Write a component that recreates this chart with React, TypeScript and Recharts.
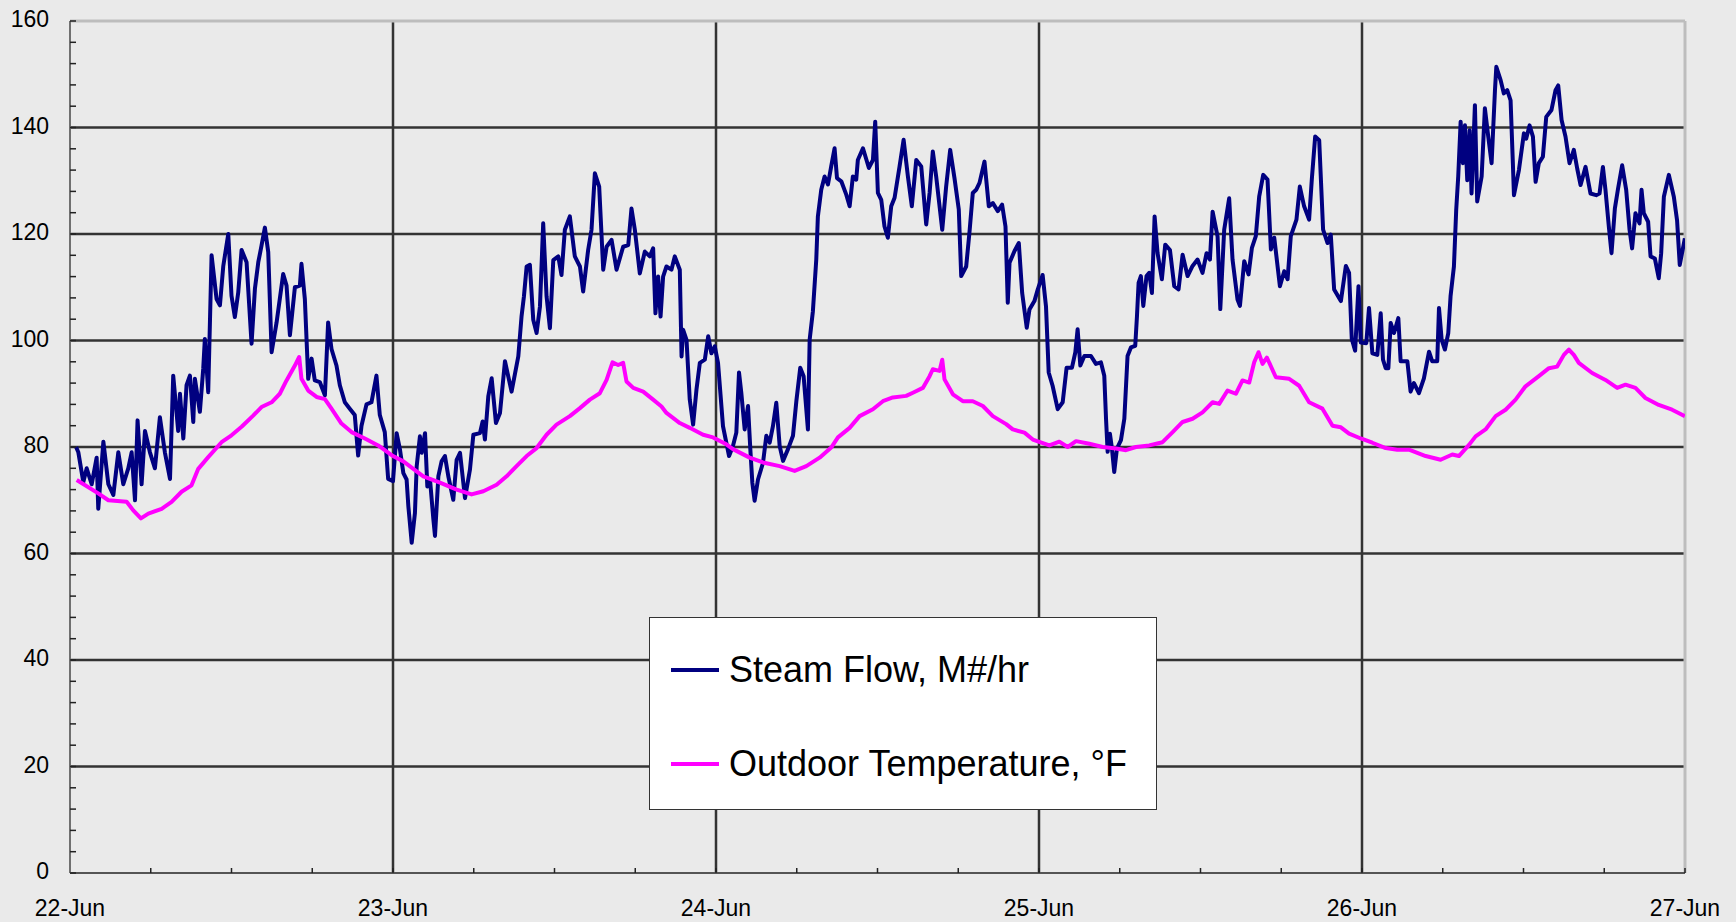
import { LineChart, Line, XAxis, YAxis, CartesianGrid, ReferenceLine, Legend } from 'recharts';

// hours since 22-Jun 00:00
const steamHours = [
  0.45, 0.62, 0.99, 1.24, 1.61, 1.98, 2.1, 2.48, 2.85, 3.22, 3.59, 3.96, 4.33, 4.58, 4.83, 5.02, 5.32, 5.57, 5.94, 6.31,
  6.68, 7.05, 7.43, 7.67, 8.04, 8.17, 8.42, 8.66, 8.91, 9.16, 9.28, 9.65, 9.9, 10.02, 10.27, 10.52, 10.89, 11.14, 11.39, 11.76,
  12.0, 12.25, 12.5, 12.75, 13.12, 13.49, 13.74, 13.99, 14.23, 14.48, 14.73, 14.98, 15.35, 15.84, 16.09, 16.34, 16.71, 17.08, 17.2, 17.45,
  17.7, 17.95, 18.19, 18.56, 18.94, 19.18, 19.43, 19.8, 20.05, 20.42, 20.79, 21.16, 21.41, 21.66, 22.03, 22.4, 22.77, 23.02, 23.39, 23.64,
  24.0, 24.27, 24.52, 24.77, 25.01, 25.14, 25.39, 25.63, 25.76, 26.0, 26.13, 26.38, 26.55, 26.75, 27.0, 27.12, 27.37, 27.61, 27.86, 28.11,
  28.48, 28.73, 28.98, 29.35, 29.72, 29.97, 30.46, 30.66, 30.83, 31.08, 31.33, 31.65, 31.95, 32.32, 32.81, 33.31, 33.55, 33.73, 33.93, 34.17,
  34.42, 34.67, 34.92, 35.16, 35.41, 35.66, 35.91, 36.28, 36.52, 36.77, 37.14, 37.51, 37.89, 38.13, 38.5, 38.75, 39.0, 39.32, 39.62, 39.87,
  40.24, 40.61, 41.1, 41.48, 41.72, 41.97, 42.34, 42.71, 43.08, 43.33, 43.5, 43.7, 43.88, 44.07, 44.32, 44.69, 44.94, 45.31, 45.44, 45.56,
  45.81, 46.05, 46.3, 46.55, 46.8, 47.17, 47.42, 47.66, 47.91, 48.15, 48.52, 48.97, 49.26, 49.51, 49.71, 49.88, 50.13, 50.38, 50.55, 50.7,
  50.87, 51.12, 51.49, 51.74, 51.99, 52.23, 52.48, 52.73, 52.98, 53.35, 53.72, 53.97, 54.26, 54.51, 54.83, 54.96, 55.2, 55.45, 55.57, 55.82,
  56.07, 56.32, 56.56, 56.81, 56.99, 57.31, 57.68, 57.93, 58.17, 58.42, 58.54, 58.92, 59.36, 59.66, 59.83, 60.03, 60.28, 60.52, 60.77, 61.02,
  61.27, 61.64, 61.94, 62.26, 62.55, 62.88, 63.25, 63.62, 63.87, 64.11, 64.36, 64.81, 65.1, 65.4, 65.72, 66.04, 66.22, 66.59, 66.84, 67.08,
  67.33, 67.58, 67.95, 68.27, 68.57, 68.94, 69.26, 69.51, 69.68, 69.81, 70.18, 70.5, 70.75, 71.09, 71.29, 71.66, 71.91, 72.27, 72.52, 72.72,
  73.01, 73.39, 73.76, 74.05, 74.45, 74.7, 74.87, 75.07, 75.37, 75.86, 76.23, 76.6, 76.85, 76.98, 77.1, 77.27, 77.42, 77.59, 77.79, 78.09,
  78.34, 78.58, 78.83, 79.15, 79.28, 79.4, 79.57, 79.75, 79.99, 80.19, 80.39, 80.59, 80.81, 81.13, 81.38, 81.73, 82.05, 82.37, 82.67, 83.04,
  83.41, 83.78, 84.15, 84.45, 84.7, 84.9, 85.27, 85.47, 85.76, 86.13, 86.38, 86.75, 86.93, 87.25, 87.57, 87.82, 88.11, 88.36, 88.66, 88.98,
  89.23, 89.48, 89.9, 90.22, 90.47, 90.71, 91.13, 91.38, 91.7, 92.07, 92.27, 92.52, 92.82, 93.11, 93.44, 93.68, 93.93, 94.43, 94.8, 95.04,
  95.24, 95.49, 95.74, 95.91, 96.32, 96.52, 96.77, 97.14, 97.39, 97.56, 97.76, 97.96, 98.13, 98.38, 98.7, 98.87, 99.37, 99.61, 99.86, 100.23,
  100.6, 100.98, 101.22, 101.59, 101.72, 101.92, 102.16, 102.41, 102.58, 102.83, 103.0, 103.15, 103.33, 103.5, 103.65, 103.82, 104.0, 104.14, 104.39, 104.56,
  104.89, 105.13, 105.38, 105.63, 105.88, 105.98, 106.3, 106.54, 106.79, 107.04, 107.21, 107.29, 107.66, 108.03, 108.2, 108.45, 108.7, 108.9, 109.14, 109.44,
  109.69, 110.08, 110.38, 110.58, 110.83, 111.12, 111.42, 111.74, 111.99, 112.24, 112.61, 112.98, 113.4, 113.65, 113.9, 114.09, 114.34, 114.54, 114.79, 115.03,
  115.33, 115.63, 115.88, 116.07, 116.32, 116.62, 116.77, 116.94, 117.26, 117.44, 117.76, 118.05, 118.23, 118.43, 118.8, 119.17, 119.41, 119.61, 119.99,
];

const steamFlow = [
  80, 79, 73.4, 76, 73, 78, 68.4, 81, 73, 71, 79, 73, 76, 79, 70, 85, 73, 83, 79, 76,
  85.6, 79, 74, 93.4, 83, 90, 81.6, 91.6, 93.4, 84.7, 92.8, 86.6, 94.7, 100.3, 90.3, 116, 107.8, 106.6, 114, 120,
  108.4, 104.4, 109, 117, 114.7, 99.4, 109.7, 114.7, 117.8, 121.2, 116.6, 97.8, 103.4, 112.5, 110.3, 101, 110, 110.3, 114.4, 107.8,
  92.8, 96.6, 92.5, 92.2, 89.7, 103.4, 98.4, 95.3, 91.6, 88.4, 87.2, 86, 78.4, 84, 88, 88.4, 93.4, 86, 82.8, 74,
  73.6, 82.6, 79.5, 75.1, 73.9, 68.9, 62, 67.6, 76.4, 82, 78.9, 82.6, 72.6, 73.9, 66.4, 63.3, 74.5, 77.3, 78.3, 74.5,
  70.1, 77.6, 78.9, 70.4, 75.8, 82.3, 82.6, 84.8, 81.4, 89.5, 92.9, 84.5, 86.4, 96.1, 90.4, 97, 104.5, 108.3, 113.9, 114.2,
  103.9, 101.4, 106.4, 122, 108.3, 102.3, 115.1, 115.8, 112.3, 120.8, 123.3, 115.8, 113.9, 109.2, 117, 120.8, 131.4, 128.9, 113.3, 117.6,
  118.9, 113.3, 117.6, 117.9, 124.8, 120.8, 112.6, 116.7, 115.8, 117.3, 105.1, 112, 104.5, 112, 113.9, 113.3, 115.8, 113.3, 97, 102,
  100.1, 88.9, 84.2, 90.8, 95.8, 96.4, 100.8, 97.6, 98.9, 95.8, 83.9, 78.3, 80.2, 82.7, 94, 90.2, 83.3, 87.7, 79.6, 73.3,
  69.9, 73.9, 77, 82.1, 80.8, 83.9, 88.3, 80.2, 77.4, 79.6, 82.1, 88.6, 94.9, 93.3, 83.3, 100.2, 105.5, 115.2, 123.3, 128.3,
  130.8, 129.3, 132.7, 136.1, 130.5, 129.9, 127.4, 125.2, 130.8, 130.2, 133.9, 136.1, 132.4, 133.9, 141.1, 127.7, 126.4, 121.4, 119.3, 125.2,
  126.8, 132.7, 137.7, 130.8, 125.2, 133.9, 132.7, 121.8, 127.7, 135.5, 130.8, 120.8, 128.9, 135.8, 130.5, 124.6, 112.1, 113.9, 120.5, 127.7,
  128.3, 129.6, 133.6, 125.2, 125.8, 124.3, 125.5, 121.4, 107.1, 114.6, 116.8, 118.3, 108.9, 102.4, 105.8, 107.4, 109.6, 112.3, 106.4, 94,
  91.5, 87.1, 88.4, 94.9, 94.9, 97.8, 102.1, 95.3, 97.1, 97.1, 95.6, 95.9, 93.4, 85.3, 79.1, 82.5, 79.7, 75.3, 79.7, 81.3,
  85.3, 97.1, 98.7, 99, 104.6, 110.8, 112.1, 106.5, 112.1, 112.7, 108.9, 123.3, 116.4, 111.5, 118, 117, 110.2, 109.6, 116.1, 112.1,
  114, 115.2, 112.7, 116.4, 115.2, 124.2, 119.5, 105.9, 120.8, 126.7, 115.2, 107.7, 106.5, 114.9, 112.4, 117.4, 119.6, 127, 131.1, 130.2,
  117.1, 119.3, 110.2, 113, 111.5, 119.6, 122.7, 128.9, 125.2, 122.7, 130.2, 138.3, 137.6, 120.8, 118.3, 119.9, 109.6, 107.4, 114, 112.7,
  100.3, 98.1, 110.2, 99.6, 99.5, 106.1, 97.6, 97.3, 105.1, 96.4, 94.8, 94.8, 103.3, 101.4, 104.2, 96.1, 96.1, 90.4, 92, 90.1,
  92.9, 97.9, 96.1, 96.1, 106.1, 100.1, 98.3, 101.4, 108.3, 113.9, 124.5, 130.8, 141.1, 133.3, 140.4, 130.1, 139.5, 127.6, 144.2, 126.1,
  130.8, 143.6, 138.3, 133.3, 147, 151.4, 148.9, 146.4, 147, 145.1, 133.3, 127.3, 132, 138.9, 137.9, 140.4, 138.3, 129.8, 133.3, 134.5,
  142, 143.3, 147, 147.9, 141.4, 138.3, 133.3, 135.8, 132.3, 129.2, 132.6, 127.6, 127.3, 127.6, 132.6, 128.3, 121.4, 116.4, 124.8, 128.6,
  132.9, 128.3, 120.8, 117.3, 123.9, 122, 128.3, 123.9, 122.3, 115.8, 115.4, 111.7, 116.4, 127, 131.1, 127, 122.6, 114.2, 119.2,
];

const tempHours = [
  0.5, 2.1, 2.85, 4.21, 4.7, 5.27, 5.82, 6.81, 7.55, 8.29, 9.03, 9.53, 10.27, 11.26, 12.0, 12.75, 13.61, 14.23, 14.98, 15.59,
  16.09, 16.71, 17.03, 17.2, 17.7, 18.32, 18.94, 19.43, 20.17, 20.92, 21.91, 22.9, 24.0, 24.77, 26.25, 27.49, 28.73, 29.84, 30.71, 31.7,
  32.44, 33.18, 33.93, 34.67, 35.41, 36.15, 37.14, 37.89, 38.63, 39.37, 39.87, 40.31, 40.73, 41.1, 41.35, 41.85, 42.59, 43.33, 43.95, 44.32,
  45.31, 46.05, 47.04, 47.78, 48.77, 49.26, 50.5, 51.49, 52.73, 53.84, 54.71, 55.7, 56.56, 57.06, 57.93, 58.67, 59.66, 60.4, 61.14, 62.13,
  62.63, 63.37, 63.87, 64.11, 64.61, 64.81, 64.98, 65.6, 66.34, 67.08, 67.83, 68.57, 69.56, 70.05, 70.92, 71.54, 72.77, 73.51, 74.13, 74.75,
  75.74, 76.73, 77.72, 78.46, 79.2, 80.19, 81.18, 81.93, 82.67, 83.41, 84.15, 84.9, 85.39, 86.01, 86.63, 87.12, 87.62, 87.99, 88.31, 88.61,
  88.93, 89.6, 90.59, 91.33, 92.07, 93.06, 93.81, 94.43, 95.04, 95.91, 96.77, 97.76, 98.62, 99.49, 100.73, 101.84, 102.71, 103.2, 103.95, 104.44,
  105.18, 105.93, 106.67, 107.41, 108.15, 109.14, 109.89, 110.5, 111.0, 111.37, 111.74, 112.11, 113.1, 114.09, 114.96, 115.58, 116.32, 117.06, 118.05, 119.04,
  119.99,
];

const tempValues = [
  73.8, 71.3, 70, 69.7, 68.1, 66.6, 67.5, 68.4, 69.7, 71.6, 72.8, 75.9, 78.1, 80.9, 82.2, 83.8, 85.9, 87.5, 88.4, 90,
  92.5, 95.3, 96.9, 92.8, 90.6, 89.4, 89, 87.2, 84.4, 82.8, 81.6, 80.3, 78.3, 77.3, 74.5, 73.3, 72, 71.1, 71.7, 72.9,
  74.5, 76.4, 78.3, 79.8, 82.3, 84.2, 85.8, 87.3, 88.9, 90.1, 92.6, 95.9, 95.4, 95.8, 92.3, 91.1, 90.4, 88.9, 87.6, 86.4,
  84.5, 83.6, 82.3, 81.8, 80.5, 79.6, 78, 77.1, 76.4, 75.5, 76.4, 78, 79.9, 81.8, 83.6, 85.8, 87.1, 88.6, 89.3, 89.6,
  90.2, 91.1, 93.3, 94.6, 94.3, 96.4, 92.7, 89.9, 88.6, 88.6, 87.7, 85.8, 84.3, 83.3, 82.7, 81.4, 80.3, 81, 80, 81.1,
  80.6, 80, 79.7, 79.4, 80, 80.3, 80.9, 82.8, 84.7, 85.3, 86.5, 88.4, 88.1, 90.6, 90, 92.5, 92.1, 95.9, 97.8, 95.6,
  96.8, 93.1, 92.8, 91.5, 88.4, 87.2, 84, 83.7, 82.5, 81.6, 80.8, 79.8, 79.5, 79.5, 78.3, 77.6, 78.6, 78.3, 80.4, 82,
  83.3, 85.8, 87, 88.9, 91.4, 93.3, 94.8, 95.1, 97.3, 98.3, 97.3, 95.8, 93.9, 92.6, 91.1, 91.7, 91.1, 89.2, 87.9, 87,
  85.8,
];

const seriesNames = ['Steam Flow, M#/hr', 'Outdoor Temperature, °F'];
const dayLabels = ['22-Jun', '23-Jun', '24-Jun', '25-Jun', '26-Jun', '27-Jun'];
const xTicks = Array.from({ length: 21 }, (_, i) => i * 6);
const yTicks = Array.from({ length: 41 }, (_, i) => i * 4);
const gridY = [20, 40, 60, 80, 100, 120, 140];
const gridX = [24, 48, 72, 96];

const steamData = steamHours.map((h, i) => ({ h, v: steamFlow[i] }));
const tempData = tempHours.map((h, i) => ({ h, v: tempValues[i] }));

const FONT = '"Liberation Sans", Arial, sans-serif';

const YTick = (props: any) => {
  const { x, y, payload } = props;
  if (payload.value % 20 !== 0) return <g />;
  return (
    <text x={x} y={y} dy={-2} textAnchor="end" dominantBaseline="central" fontSize={23} fontFamily={FONT} fill="#000">
      {payload.value}
    </text>
  );
};

const XTick = (props: any) => {
  const { x, y, payload } = props;
  if (payload.value % 24 !== 0) return <g />;
  return (
    <text x={x} y={y} dy="0.71em" textAnchor="middle" fontSize={23} fontFamily={FONT} fill="#000">
      {dayLabels[payload.value / 24]}
    </text>
  );
};

const LegendBox = ({ payload }: any) => {
  const items = [...(payload || [])].sort((a: any, b: any) => seriesNames.indexOf(a.value) - seriesNames.indexOf(b.value));
  return (
    <div
      style={{
        width: 508,
        height: 193,
        boxSizing: 'border-box',
        background: '#fff',
        border: '1.5px solid #333',
        position: 'relative',
        fontFamily: FONT,
        fontSize: 36,
        color: '#000',
      }}
    >
      {items.map((e: any, i: number) => (
        <div key={e.value} style={{ position: 'absolute', left: 21, top: i === 0 ? 30 : 124, height: 44, display: 'flex', alignItems: 'center', whiteSpace: 'nowrap' }}>
          <span style={{ display: 'inline-block', width: 48, height: 4, background: e.color, marginRight: 10 }} />
          <span>{e.value}</span>
        </div>
      ))}
    </div>
  );
};

export default function App() {
  return (
    <div style={{ position: 'absolute', left: 0, top: 0, width: 1736, height: 922, background: '#EAEAEA' }}>
      <LineChart width={1736} height={922} margin={{ top: 21, right: 51, bottom: 0, left: 0 }}>
        <CartesianGrid horizontalValues={gridY} verticalValues={gridX} stroke="#333" strokeWidth={2.5} />
        <ReferenceLine y={160} stroke="#bdbdbd" strokeWidth={3} />
        <ReferenceLine x={120} stroke="#bdbdbd" strokeWidth={3} />
        <XAxis
          dataKey="h"
          type="number"
          domain={[0, 120]}
          ticks={xTicks}
          interval={0}
          height={49}
          tickSize={-5}
          tickMargin={32}
          tick={<XTick />}
          axisLine={{ stroke: '#555', strokeWidth: 2 }}
          tickLine={{ stroke: '#222', strokeWidth: 1.5 }}
          allowDataOverflow
        />
        <YAxis
          type="number"
          domain={[0, 160]}
          ticks={yTicks}
          interval={0}
          width={70}
          tickSize={-6}
          tickMargin={27}
          tick={<YTick />}
          axisLine={{ stroke: '#707070', strokeWidth: 2 }}
          tickLine={{ stroke: '#222', strokeWidth: 1.5 }}
        />
        <Line data={steamData} dataKey="v" name={seriesNames[0]} type="linear" stroke="#000080" strokeWidth={4} strokeLinejoin="round" dot={false} activeDot={false} isAnimationActive={false} />
        <Line data={tempData} dataKey="v" name={seriesNames[1]} type="linear" stroke="#FF00FF" strokeWidth={4} strokeLinejoin="round" dot={false} activeDot={false} isAnimationActive={false} />
        <Legend
          layout="horizontal"
          verticalAlign="middle"
          align="center"
          itemSorter={null as any}
          content={<LegendBox />}
          wrapperStyle={{ left: 649, top: 617, width: 508, height: 193 }}
        />
      </LineChart>
    </div>
  );
}
